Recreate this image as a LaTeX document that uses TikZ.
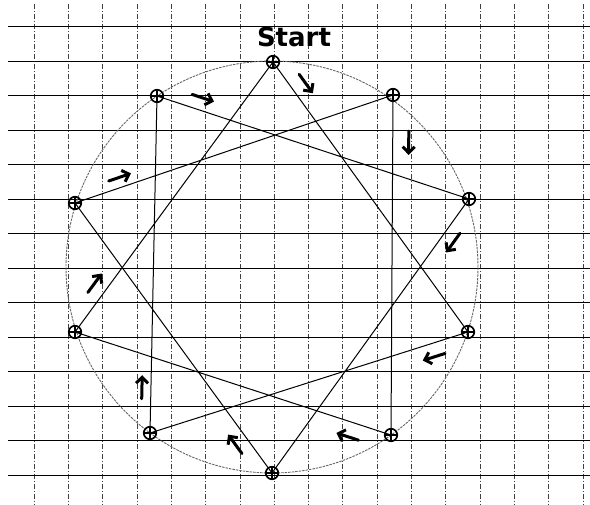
\documentclass[tikz,border=0pt]{standalone}
\usepackage{fontspec}
\newfontfamily\handfont{DejaVu Sans}
\usetikzlibrary{calc,arrows.meta}
\tikzset{
  gridh/.style={line width=1.6pt, black},
  gridv/.style={line width=0.6pt, black!75, dash pattern=on 5pt off 2pt on 1pt off 2pt},
  ring/.style={line width=0.9pt, black!60, dash pattern=on 2.5pt off 1pt},
  chord/.style={line width=1pt, black},
  vertex/.style={circle, draw, line width=1.7pt, minimum size=12.5pt, inner sep=0pt,
    path picture={\draw[line width=1.1pt]
      (path picture bounding box.north) -- (path picture bounding box.south)
      (path picture bounding box.west) -- (path picture bounding box.east);}},
  flowarr/.style={line width=3pt, line cap=round, -{Straight Barb[length=6pt,width=12pt]}},
  startlabel/.style={inner sep=0pt, font=\handfont\bfseries\fontsize{26}{26}\selectfont}
}
\newcommand\flowmark[5]{\draw[flowarr] ($(#1)!#3!(#2)!#5pt!90:(#2)$) -- ($(#1)!#4!(#2)!#5pt!90:(#2)$);}
\begin{document}
\begin{tikzpicture}[x=1pt,y=-1pt]
\useasboundingbox (0,0) rectangle (590,505);
% grid
\foreach \k in {0,...,16} \draw[gridv] ({34+34.3*\k},4) -- ({34+34.3*\k},505);
\foreach \k in {0,...,13} \draw[gridh] (8,{floor(26.5+34.5*\k)+0.5}) -- (590,{floor(26.5+34.5*\k)+0.5});
% circle
\coordinate (c) at (272,267);
\draw[ring] (c) circle[radius=206pt];
% vertices
\node[vertex] (p0) at (273,62) {};
\node[vertex] (p1) at (393,95) {};
\node[vertex] (p2) at (469,199) {};
\node[vertex] (p3) at (468,332) {};
\node[vertex] (p4) at (391,435) {};
\node[vertex] (p5) at (272,473) {};
\node[vertex] (p6) at (150,433) {};
\node[vertex] (p7) at (75,332) {};
\node[vertex] (p8) at (75,203) {};
\node[vertex] (p9) at (157,96) {};
\node[startlabel] (start) at (294,37) {Start};
% star path
\draw[chord] (p0.center) -- (p3.center) -- (p6.center) -- (p9.center) -- (p2.center)
  -- (p5.center) -- (p8.center) -- (p1.center) -- (p4.center) -- (p7.center) -- (p0.center);
% direction marks
\flowmark{p0}{p3}{0.076}{0.146}{14}
\flowmark{p3}{p6}{0.085}{0.155}{13.5}
\flowmark{p6}{p9}{0.101}{0.171}{9}
\flowmark{p9}{p2}{0.100}{0.170}{12.5}
\flowmark{p2}{p5}{0.098}{0.168}{12.7}
\flowmark{p5}{p8}{0.100}{0.170}{12.8}
\flowmark{p8}{p1}{0.116}{0.186}{10}
\flowmark{p1}{p4}{0.106}{0.176}{16}
\flowmark{p4}{p7}{0.088}{0.158}{15}
\flowmark{p7}{p0}{0.118}{0.188}{13}
\end{tikzpicture}
\end{document}
